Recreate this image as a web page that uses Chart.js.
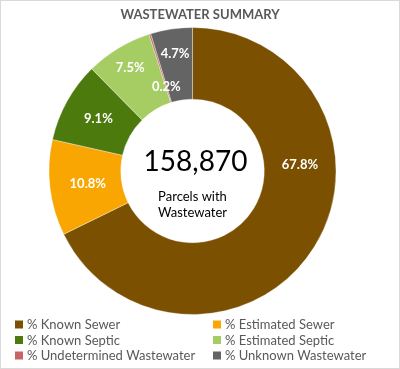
<!DOCTYPE html>
<html>
<head>
<meta charset="utf-8">
<script src="https://cdn.jsdelivr.net/npm/chart.js@4"></script>
<style>
  html, body { margin: 0; padding: 0; background: #fff; }
  #wrap { position: relative; width: 400px; height: 369px; }
</style>
</head>
<body>
<div id="wrap"><canvas id="myChart" width="400" height="369"></canvas></div>
<script>
const categories = ['% Known Sewer', '% Estimated Sewer', '% Known Septic', '% Estimated Septic', '% Undetermined Wastewater', '% Unknown Wastewater'];
const shares = [67.8, 10.8, 9.1, 7.5, 0.2, 4.7];
const sliceColors = ['#7b5000', '#f9a602', '#4c7a0d', '#a6cd63', '#c76464', '#646464'];
const chartTitle = 'WASTEWATER SUMMARY';
const centerTotal = '158,870';
const centerCaption = ['Parcels with', 'Wastewater'];

const FONT = 'Lato, "Open Sans", sans-serif';

// where each % label sits: fraction along the slice, and radius factor of the ring middle
const labelSpot = {
  along: [0.355, 0.5, 0.5, 0.5, 0.5, 0.5],
  radial: [1.0, 0.98, 1.0, 1.12, 0.82, 1.1]
};

const extras = {
  id: 'extras',
  afterDatasetsDraw(chart) {
    const ctx = chart.ctx;
    const meta = chart.getDatasetMeta(0);

    // slice labels
    ctx.save();
    ctx.fillStyle = '#ffffff';
    ctx.font = 'bold 13px ' + FONT;
    ctx.textAlign = 'center';
    ctx.textBaseline = 'middle';
    meta.data.forEach((arc, i) => {
      const p = arc.getProps(['x', 'y', 'startAngle', 'endAngle', 'innerRadius', 'outerRadius'], true);
      const a = p.startAngle + (p.endAngle - p.startAngle) * labelSpot.along[i];
      const r = (p.innerRadius + p.outerRadius) / 2 * labelSpot.radial[i];
      ctx.fillText(shares[i].toFixed(1) + '%', p.x + Math.cos(a) * r, p.y + Math.sin(a) * r);
    });
    ctx.restore();

    // centre text
    const c = meta.data[0];
    ctx.save();
    ctx.textAlign = 'center';
    ctx.textBaseline = 'middle';
    ctx.fillStyle = '#000000';
    ctx.font = '28px ' + FONT;
    ctx.fillText(centerTotal, c.x + 3, c.y - 9);
    ctx.font = '13px ' + FONT;
    ctx.fillText(centerCaption[0], c.x, c.y + 26);
    ctx.fillText(centerCaption[1], c.x, c.y + 42);
    ctx.restore();
  },
  afterDraw(chart) {
    const ctx = chart.ctx;
    ctx.save();
    // title
    ctx.fillStyle = '#595959';
    ctx.textAlign = 'center';
    ctx.textBaseline = 'middle';
    ctx.font = 'bold 13px ' + FONT;
    ctx.fillText(chartTitle, 200, 15);

    // legend, two columns
    ctx.textAlign = 'left';
    ctx.font = '13px ' + FONT;
    categories.forEach((name, i) => {
      const col = i % 2;
      const row = Math.floor(i / 2);
      const x = col === 0 ? 15 : 213;
      const y = 324.5 + row * 15.5;
      ctx.fillStyle = sliceColors[i];
      ctx.fillRect(x, y - 4, 8, 8);
      ctx.fillStyle = '#595959';
      ctx.fillText(name, x + 12, y + 0.5);
    });

    // frame
    ctx.strokeStyle = '#d9d9d9';
    ctx.lineWidth = 1;
    ctx.strokeRect(0.5, 0.5, 399, 368);
    ctx.restore();
  }
};

new Chart(document.getElementById('myChart'), {
  type: 'doughnut',
  data: {
    labels: categories,
    datasets: [{
      data: shares,
      backgroundColor: sliceColors,
      borderColor: 'rgba(255,255,255,0.35)',
      borderWidth: 1
    }]
  },
  options: {
    responsive: false,
    animation: false,
    cutout: '50%',
    layout: { padding: { left: 48, top: 27, right: 63, bottom: 54 } },
    plugins: {
      legend: { display: false },
      title: { display: false },
      tooltip: { enabled: false }
    }
  },
  plugins: [extras]
});
</script>
</body>
</html>
